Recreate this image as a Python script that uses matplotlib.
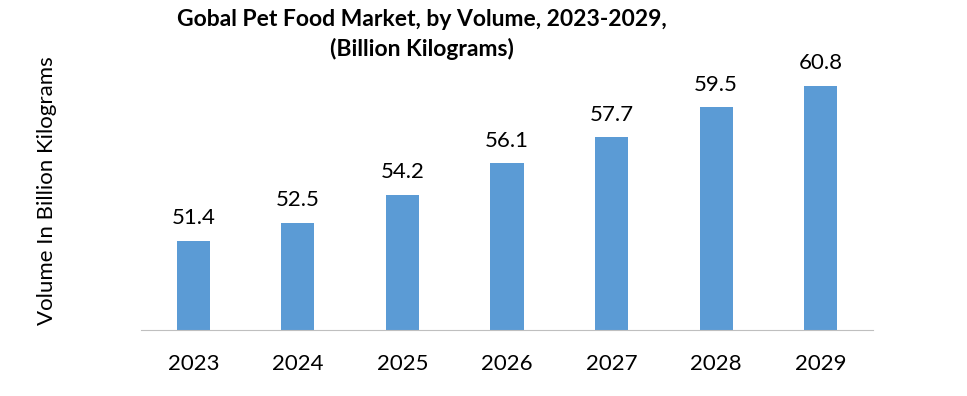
import matplotlib
matplotlib.use("Agg")
import matplotlib.pyplot as plt

years = ["2023", "2024", "2025", "2026", "2027", "2028", "2029"]
volumes = [51.4, 52.5, 54.2, 56.1, 57.7, 59.5, 60.8]
value_labels = ["51.4", "52.5", "54.2", "56.1", "57.7", "59.5", "60.8"]

plt.rcParams['font.family'] = ['Lato', 'DejaVu Sans']

fig = plt.figure(figsize=(9.67, 3.96), dpi=100)
ax = fig.add_axes([141/967, 1 - 330/396, (873 - 141)/967, (330 - 66.2)/396])

x = list(range(len(years)))
ax.bar(x, volumes, width=0.316, color="#5B9BD5", zorder=2)
for xi, v, lab in zip(x, volumes, value_labels):
    ax.annotate(lab, (xi, v), xytext=(0, 9), textcoords="offset points",
                ha="center", va="bottom", fontsize=16, color="#000000")

ax.set_xlim(-0.5, len(years) - 0.5)
ax.set_ylim(46, 62)
ax.set_xticks(x)
ax.set_xticklabels(years, fontsize=16)
ax.tick_params(axis="x", length=0, pad=17)
ax.set_yticks([])
for s in ["top", "right", "left"]:
    ax.spines[s].set_visible(False)
ax.spines["bottom"].set_color("#BFBFBF")
ax.spines["bottom"].set_linewidth(0.8)

fig.text(47/967, 1 - 191/396, "Volume In Billion Kilograms", rotation=90,
         ha="center", va="center", fontsize=16)
fig.text(422/967, 1 - 20/396, "Gobal Pet Food Market, by Volume, 2023-2029,",
         ha="center", va="center", fontsize=16.5, fontweight="bold")
fig.text(422/967, 1 - 49/396, "(Billion Kilograms)",
         ha="center", va="center", fontsize=16.5, fontweight="bold")

fig.savefig("out.png", dpi=100, facecolor="white")
